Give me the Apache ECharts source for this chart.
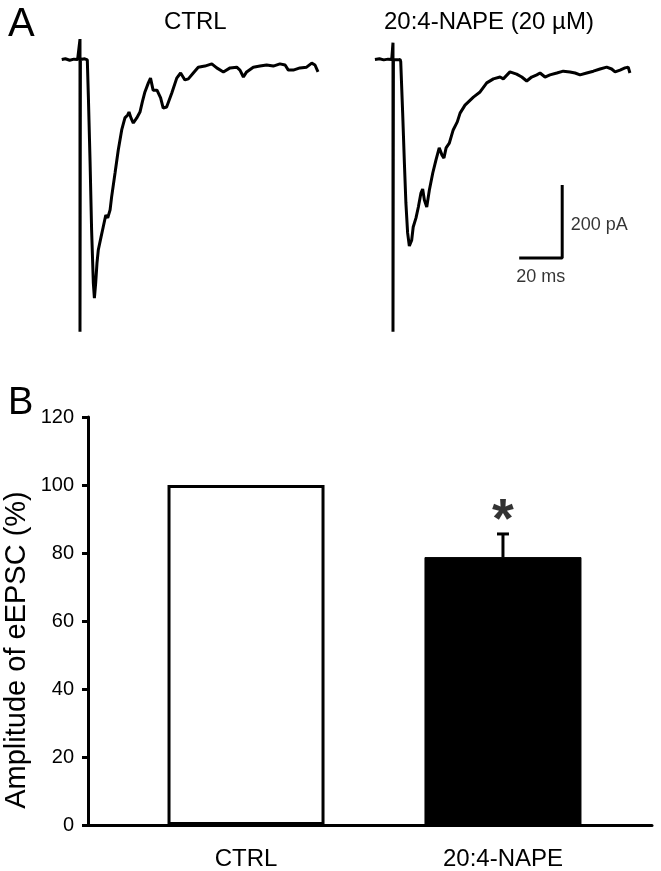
<!DOCTYPE html>
<html><head><meta charset="utf-8">
<script src="https://cdn.jsdelivr.net/npm/echarts@6/dist/echarts.min.js"></script>
<style>html,body{margin:0;padding:0;background:#fff}#c{width:661px;height:871px}</style>
</head><body><div id="c"></div>
<script>
// ---- Panel A: traces (time in ms, current in pA) ----
const ctrlTime = [0.8,2.5,4.5,6.5,8.2,9.3,9.3,9.5,10.1,11.5,12.4,12.7,13.2,14.0,14.7,15.5,16.0,16.6,17.2,17.8,19.1,20.1,21.3,22.2,23.3,24.0,25.6,27.1,28.7,30.2,31.5,32.1,33.0,34.1,35.7,37.2,38.3,39.5,41.1,42.1,43.3,45.1,46.8,48.0,49.6,52.0,54.3,56.1,58.1,59.7,62.0,64.3,67.4,70.6,72.9,76.0,79.1,82.2,83.7,85.3,86.8,89.9,93.0,96.1,99.2,102.3,104.7,106.2,108.5,111.6,114.7,117.1,118.6,120.0];
const ctrlCurrent = [0,2,-2,1,0,56,-746,0,0,2,0,-1,-102,-284,-467,-612,-654,-612,-558,-522,-486,-459,-426,-434,-412,-377,-311,-248,-193,-160,-152,-144,-160,-174,-160,-144,-116,-89,-64,-51,-84,-84,-105,-133,-130,-92,-51,-37,-56,-53,-37,-21,-18,-12,-23,-34,-23,-21,-29,-48,-34,-21,-18,-15,-18,-12,-15,-29,-29,-23,-21,-10,-15,-34];
const napeTime = [0.9,3,5,7,8.7,9.3,9.3,9.5,10.2,11.5,12.6,12.9,13.8,14.6,15.3,16.1,16.9,18.0,18.7,20.0,21.1,22.3,23.1,23.9,25.0,26.2,27.8,29.3,30.8,32.1,33.0,34.0,35.5,37.3,39.2,40.5,42.8,46.7,49.8,52.9,56.0,59.1,60.6,63.7,66.8,69.2,71.5,73.8,76.2,77.7,80.0,82.3,85.5,88.5,91.6,94.0,96.3,99.4,102.5,105.6,108.7,111.0,112.6,114.9,117.2,118.7,119.5];
const napeCurrent = [0,2,-1,1,0,46,-746,0,0,-1,0,-6,-147,-284,-393,-475,-511,-495,-459,-434,-404,-366,-355,-385,-404,-358,-311,-275,-242,-262,-270,-242,-229,-193,-171,-147,-125,-103,-89,-64,-53,-48,-53,-34,-40,-48,-59,-48,-42,-37,-48,-42,-37,-32,-34,-37,-42,-37,-32,-26,-21,-26,-34,-29,-23,-21,-37];
const traceTitles = ['CTRL', '20:4-NAPE (20 µM)'];
const scaleBarTime = 20;      // ms
const scaleBarCurrent = 200;  // pA
const scaleBarOrigin = [88, -544]; // corner of the scale bar (ms, pA)

// ---- Panel B: bar chart ----
const categories = ['CTRL', '20:4-NAPE'];
const amplitudes = [100, 78.8];
const sem = [0, 6.8];
const yTicks = [0, 20, 40, 60, 80, 100, 120];
const yTitle = 'Amplitude of eEPSC (%)';

const zip = (a, b) => a.map((v, i) => [v, b[i]]);

const chart = echarts.init(document.getElementById('c'), null, {renderer: 'canvas'});
const FONT = 'Liberation Sans, Arial, sans-serif';
const traceX = {type: 'value', min: 0, max: 120, show: false};
const traceY = {type: 'value', min: -800, max: 100, show: false};

const sbX = scaleBarOrigin[0], sbY = scaleBarOrigin[1];

chart.setOption({
  animation: false,
  backgroundColor: '#fff',
  title: [
    {text: 'A', left: 3, top: 0, textStyle: {fontFamily: FONT, fontSize: 40, fontWeight: 'normal', color: '#000'}},
    {text: traceTitles[0], left: 159, top: 5, textStyle: {fontFamily: FONT, fontSize: 24, fontWeight: 'normal', color: '#000'}},
    {text: traceTitles[1], left: 379, top: 5, textStyle: {fontFamily: FONT, fontSize: 24, fontWeight: 'normal', color: '#000'}},
    {text: 'B', left: 3, top: 380, textStyle: {fontFamily: FONT, fontSize: 38, fontWeight: 'normal', color: '#000'}}
  ],
  graphic: [
    {type: 'text', x: 17, y: 650, rotation: Math.PI / 2,
     style: {text: yTitle, fontFamily: FONT, fontSize: 29, fill: '#000', align: 'center', verticalAlign: 'middle'}}
  ],
  grid: [
    {left: 60, top: 23, width: 258, height: 328.5},
    {left: 373, top: 23, width: 258, height: 328.5},
    {left: 88, right: 9, top: 417, bottom: 46}
  ],
  xAxis: [
    Object.assign({gridIndex: 0}, traceX),
    Object.assign({gridIndex: 1}, traceX),
    {
      gridIndex: 2, type: 'value', min: -0.615, max: 1.58,
      splitLine: {show: false},
      axisLine: {show: true, onZero: false, lineStyle: {color: '#000', width: 3}},
      axisTick: {show: false},
      axisLabel: {
        customValues: [0, 1], margin: 22,
        formatter: v => categories[Math.round(v)] || '',
        fontFamily: FONT, fontSize: 24, color: '#000'
      }
    }
  ],
  yAxis: [
    Object.assign({gridIndex: 0}, traceY),
    Object.assign({gridIndex: 1}, traceY),
    {
      gridIndex: 2, type: 'value', min: yTicks[0], max: yTicks[yTicks.length - 1], interval: 20,
      splitLine: {show: false},
      axisLine: {show: true, onZero: false, lineStyle: {color: '#000', width: 3}},
      axisTick: {show: true, inside: false, length: 6, lineStyle: {color: '#000', width: 3}},
      axisLabel: {margin: 14, fontFamily: FONT, fontSize: 20, color: '#000'}
    }
  ],
  series: [
    {type: 'line', xAxisIndex: 0, yAxisIndex: 0, data: zip(ctrlTime, ctrlCurrent), showSymbol: false,
     lineStyle: {color: '#000', width: 3}, silent: true},
    {type: 'line', xAxisIndex: 1, yAxisIndex: 1, data: zip(napeTime, napeCurrent), showSymbol: false,
     lineStyle: {color: '#000', width: 3}, silent: true},
    {type: 'line', xAxisIndex: 1, yAxisIndex: 1, showSymbol: false,
     data: [[sbX - scaleBarTime, sbY], [sbX, sbY], [sbX, sbY + scaleBarCurrent]],
     lineStyle: {color: '#000', width: 3}, silent: true},
    {type: 'scatter', xAxisIndex: 1, yAxisIndex: 1, symbolSize: 0, silent: true,
     data: [
       {value: [sbX + 4, sbY + scaleBarCurrent / 2 - 10], label: {show: true, position: 'right', distance: 0, formatter: scaleBarCurrent + ' pA'}},
       {value: [sbX - scaleBarTime / 2, sbY - 52], label: {show: true, position: 'inside', formatter: scaleBarTime + ' ms'}}
     ],
     label: {fontFamily: FONT, fontSize: 18, color: '#000'}},
    {type: 'bar', xAxisIndex: 2, yAxisIndex: 2, barWidth: 157,
     data: [
       {value: [0, amplitudes[0]], itemStyle: {color: '#fff', borderColor: '#000', borderWidth: 3}},
       {value: [1, amplitudes[1]], itemStyle: {color: '#000', borderColor: '#000', borderWidth: 1}}
     ]},
    {type: 'custom', xAxisIndex: 2, yAxisIndex: 2,
     data: [[1, amplitudes[1], amplitudes[1] + sem[1]]],
     renderItem: (params, api) => {
       const base = api.coord([api.value(0), api.value(1)]);
       const top = api.coord([api.value(0), api.value(2)]);
       return {type: 'group', children: [
         {type: 'line', shape: {x1: base[0], y1: base[1], x2: top[0], y2: top[1]}, style: {stroke: '#000', lineWidth: 3}},
         {type: 'line', shape: {x1: top[0] - 6, y1: top[1], x2: top[0] + 6, y2: top[1]}, style: {stroke: '#000', lineWidth: 3}}
       ]};
     }},
    {type: 'scatter', xAxisIndex: 2, yAxisIndex: 2, symbolSize: 0, silent: true,
     data: [[1, amplitudes[1] + sem[1]]],
     label: {show: true, position: 'top', distance: -16, formatter: '*', fontFamily: FONT, fontSize: 56, fontWeight: 'bold', color: '#000'}}
  ]
});
</script></body></html>
